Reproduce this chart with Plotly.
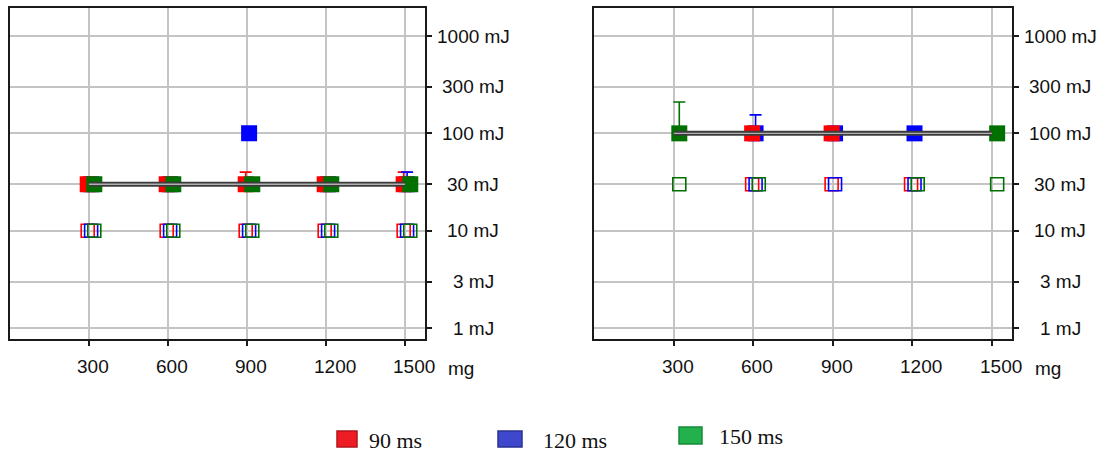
import math
import plotly.graph_objects as go

# ---------------- data ----------------
doses = [300, 600, 900, 1200, 1500]          # mg
x_tick_labels = ["300", "600", "900", "1200", "1500"]
y_tick_values = [1, 3, 10, 30, 100, 300, 1000]   # mJ
y_tick_labels = ["1 mJ", "3 mJ", "10 mJ", "30 mJ", "100 mJ", "300 mJ", "1000 mJ"]
series_names = ["90 ms", "120 ms", "150 ms"]

# Left panel
A_filled_90 = [30, 30, 30, 30, 30]
A_filled_120 = [30, 30, 100, 30, 30]
A_filled_150 = [30, 30, 30, 30, 30]
A_open_90 = [10, 10, 10, 10, 10]
A_open_120 = [10, 10, 10, 10, 10]
A_open_150 = [10, 10, 10, 10, 10]
A_errtop_90 = [None, None, 40, None, 40]
A_errtop_120 = [None, None, None, None, 40]
A_errtop_150 = [None, None, None, None, None]
A_mean = [30, 30, 30, 30, 30]

# Right panel
B_filled_90 = [None, 100, 100, None, None]
B_filled_120 = [None, 100, 100, 100, None]
B_filled_150 = [100, None, None, None, 100]
B_open_90 = [None, 30, 30, 30, None]
B_open_120 = [None, 30, 30, 30, None]
B_open_150 = [30, 30, None, 30, 30]
B_errtop_90 = [None, None, None, None, None]
B_errtop_120 = [None, 155, None, None, None]
B_errtop_150 = [210, None, None, None, None]
B_mean = [100, 100, 100, 100, 100]

# ---------------- styles ----------------
colors = {"90 ms": "#ff0000", "120 ms": "#0000ff", "150 ms": "#007000"}
x_offset = {"90 ms": -5, "120 ms": 8, "150 ms": 20}   # mg, small dodge
legend_fill = {"90 ms": "#ee1c25", "120 ms": "#3f48cc", "150 ms": "#22b14c"}
legend_line = {"90 ms": "#b3141b", "120 ms": "#2a3190", "150 ms": "#178a3a"}

W, H = 1106, 454
fig = go.Figure()

panels = [
    dict(xa="x", ya="y",
         filled={"90 ms": A_filled_90, "120 ms": A_filled_120, "150 ms": A_filled_150},
         opened={"90 ms": A_open_90, "120 ms": A_open_120, "150 ms": A_open_150},
         errs={"90 ms": A_errtop_90, "120 ms": A_errtop_120, "150 ms": A_errtop_150},
         mean=A_mean),
    dict(xa="x2", ya="y2",
         filled={"90 ms": B_filled_90, "120 ms": B_filled_120, "150 ms": B_filled_150},
         opened={"90 ms": B_open_90, "120 ms": B_open_120, "150 ms": B_open_150},
         errs={"90 ms": B_errtop_90, "120 ms": B_errtop_120, "150 ms": B_errtop_150},
         mean=B_mean),
]

for p in panels:
    xa, ya = p["xa"], p["ya"]
    # open squares
    for name in series_names:
        xs = [d + x_offset[name] for d in doses]
        fig.add_trace(go.Scatter(
            x=xs, y=p["opened"][name], mode="markers", xaxis=xa, yaxis=ya,
            showlegend=False, hoverinfo="skip",
            marker=dict(symbol="square-open", size=13, color=colors[name],
                        line=dict(width=1.6, color=colors[name]))))
    # error bars
    for name in series_names:
        xs, ys, ups = [], [], []
        for d, v, t in zip(doses, p["filled"][name], p["errs"][name]):
            if t is not None and v is not None:
                xs.append(d + x_offset[name]); ys.append(v); ups.append(t - v)
        if xs:
            fig.add_trace(go.Scatter(
                x=xs, y=ys, mode="markers", xaxis=xa, yaxis=ya,
                showlegend=False, hoverinfo="skip",
                marker=dict(size=2, color="rgba(0,0,0,0)"),
                error_y=dict(type="data", symmetric=False, array=ups,
                             arrayminus=[0] * len(ups), color=colors[name],
                             thickness=1.6, width=6)))
    # filled squares (blue underneath, then red, then green)
    for name in ["120 ms", "90 ms", "150 ms"]:
        xs = [d + x_offset[name] for d in doses]
        fig.add_trace(go.Scatter(
            x=xs, y=p["filled"][name], mode="markers", xaxis=xa, yaxis=ya,
            showlegend=False, name=name,
            marker=dict(symbol="square", size=16, color=colors[name],
                        line=dict(width=0))))
    # mean line (dark with light centre)
    fig.add_trace(go.Scatter(x=doses, y=p["mean"], mode="lines", xaxis=xa, yaxis=ya,
                             showlegend=False, hoverinfo="skip",
                             line=dict(color="#3c3c3c", width=5)))
    fig.add_trace(go.Scatter(x=doses, y=p["mean"], mode="lines", xaxis=xa, yaxis=ya,
                             showlegend=False, hoverinfo="skip",
                             line=dict(color="#b0b0b0", width=1.3)))

ydom = [1 - 339 / H, 1 - 8 / H]
axis_common = dict(showline=True, linecolor="#1a1a1a", linewidth=2, mirror=True,
                   showgrid=True, gridcolor="#c4c4c4", gridwidth=2, zeroline=False,
                   ticks="outside", ticklen=5, tickwidth=1.5, tickcolor="#1a1a1a",
                   showticklabels=False, fixedrange=True)

xrange_ = [-2, 1576]
yrange_ = [-0.113, 3.288]
fig.update_layout(
    width=W, height=H, margin=dict(l=0, r=0, t=0, b=0),
    paper_bgcolor="white", plot_bgcolor="white", showlegend=False,
    xaxis=dict(domain=[9.5 / W, 425 / W], range=xrange_, tickvals=doses, anchor="y", **axis_common),
    yaxis=dict(domain=ydom, type="log", range=yrange_, tickvals=y_tick_values,
               side="right", anchor="x", **axis_common),
    xaxis2=dict(domain=[594 / W, 1012 / W], range=xrange_, tickvals=doses, anchor="y2", **axis_common),
    yaxis2=dict(domain=ydom, type="log", range=yrange_, tickvals=y_tick_values,
                side="right", anchor="x2", **axis_common),
)

tick_font = dict(family="Liberation Sans, Arial, sans-serif", size=19, color="#111111")
annotations = []
for xa, ya in [("x", "y"), ("x2", "y2")]:
    for v, lab in zip(y_tick_values, y_tick_labels):
        annotations.append(dict(text=lab, xref=xa + " domain", x=1, xshift=48, xanchor="center",
                                yref=ya, y=math.log10(v), yanchor="middle",
                                showarrow=False, font=tick_font))
    for d, lab in zip(doses, x_tick_labels):
        annotations.append(dict(text=lab, xref=xa, x=d, xshift=-14, xanchor="left",
                                yref=ya + " domain", y=0, yshift=-27, yanchor="middle",
                                showarrow=False, font=tick_font))
    annotations.append(dict(text="mg", xref=xa + " domain", x=1, xshift=36, xanchor="center",
                            yref=ya + " domain", y=0, yshift=-29, yanchor="middle",
                            showarrow=False, font=tick_font))

# legend drawn below the panels
legend_boxes = {"90 ms": (337, 357, 431, 447), "120 ms": (498, 522, 431, 447),
                "150 ms": (679, 702, 427, 444)}
legend_text_pos = {"90 ms": (367, 440), "120 ms": (541, 440), "150 ms": (717, 436)}
shapes = []
for name in series_names:
    x0, x1, y0, y1 = legend_boxes[name]
    shapes.append(dict(type="rect", xref="paper", yref="paper",
                       x0=x0 / W, x1=x1 / W, y0=1 - y1 / H, y1=1 - y0 / H,
                       fillcolor=legend_fill[name], line=dict(color=legend_line[name], width=1.5)))
    tx, ty = legend_text_pos[name]
    annotations.append(dict(text=name, xref="paper", yref="paper", x=tx / W, y=1 - ty / H,
                            xanchor="left", yanchor="middle", showarrow=False,
                            font=dict(family="Liberation Serif, Times New Roman, serif",
                                      size=22, color="#111111")))

fig.update_layout(annotations=annotations, shapes=shapes)
fig.write_html("out.html", config={"displayModeBar": False},
               post_script="document.body.style.margin='0px';")
